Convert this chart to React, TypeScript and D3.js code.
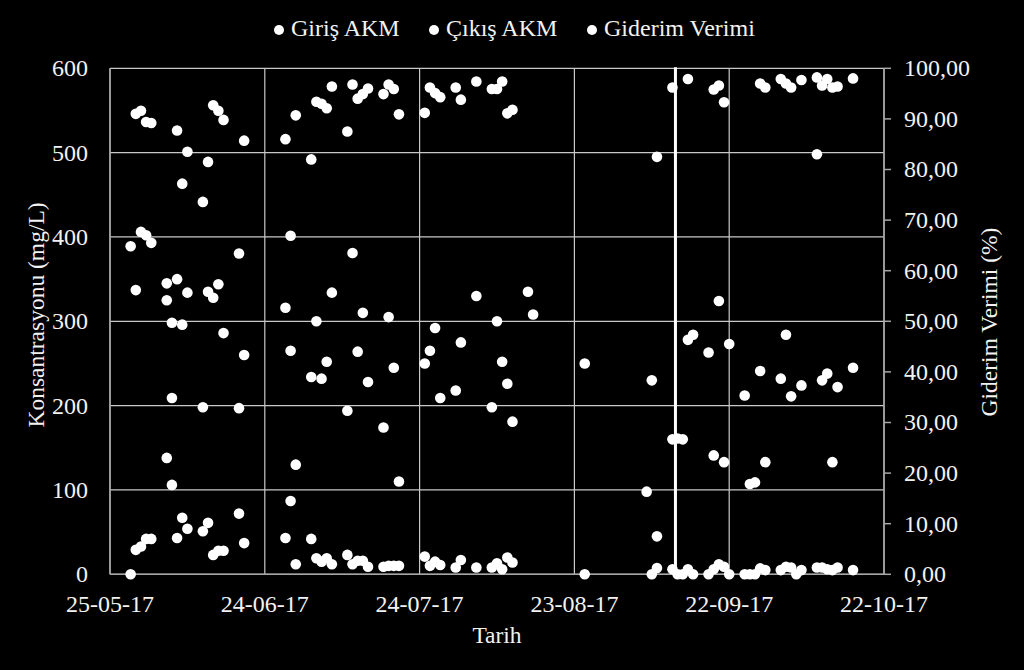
import React from "react";
import * as d3 from "d3";

// ---- Data ----
const dates = [
  "2017-05-29", "2017-05-30", "2017-05-31", "2017-06-01", "2017-06-02", "2017-06-05", "2017-06-06", "2017-06-07",
  "2017-06-08", "2017-06-09", "2017-06-12", "2017-06-13", "2017-06-14", "2017-06-15", "2017-06-16", "2017-06-19",
  "2017-06-20", "2017-06-28", "2017-06-29", "2017-06-30", "2017-07-03", "2017-07-04", "2017-07-05", "2017-07-06",
  "2017-07-07", "2017-07-10", "2017-07-11", "2017-07-12", "2017-07-13", "2017-07-14", "2017-07-17", "2017-07-18",
  "2017-07-19", "2017-07-20", "2017-07-25", "2017-07-26", "2017-07-27", "2017-07-28", "2017-07-31", "2017-08-01",
  "2017-08-04", "2017-08-07", "2017-08-08", "2017-08-09", "2017-08-10", "2017-08-11", "2017-08-14", "2017-08-15",
  "2017-08-25", "2017-09-06", "2017-09-07", "2017-09-08", "2017-09-11", "2017-09-12", "2017-09-13", "2017-09-14",
  "2017-09-15", "2017-09-18", "2017-09-19", "2017-09-20", "2017-09-21", "2017-09-22", "2017-09-25", "2017-09-26",
  "2017-09-27", "2017-09-28", "2017-09-29", "2017-10-02", "2017-10-03", "2017-10-04", "2017-10-05", "2017-10-06",
  "2017-10-09", "2017-10-10", "2017-10-11", "2017-10-12", "2017-10-13", "2017-10-16",
];

const girisAKM: (number | null)[] = [
  389, 337, 406, 402, 393, 325, 209, 350,
  296, 334, 198, 335, 328, 344, 286, 197,
  260, 316, 265, 130, 234, 300, 232, 252,
  334, 194, 381, 264, 310, 228, 174, 305,
  245, 110, 250, 265, 292, 209, 218, 275,
  330, 198, 300, 252, 226, 181, 335, 308,
  250, 98, 230, 45, 160, 161, 160, 278,
  284, 263, 141, 324, 133, 273, 212, 107,
  109, 241, 133, 232, 284, 211, null, 224,
  498, 230, 238, 133, 222, 245,
];

const cikisAKM: (number | null)[] = [
  null, 29, 33, 42, 42, 138, 106, 43,
  67, 54, 51, 61, 23, 28, 28, 72,
  37, 43, 87, 12, 42, 19, 15, 19,
  12, 23, 12, 16, 16, 9, 9, 10,
  10, 10, 21, 10, 15, 11, 8, 17,
  8, 8, 13, 6, 20, 14, null, null,
  null, null, null, 7.5, 6, null, null, 6,
  null, null, 6, 12, 9, null, null, null,
  null, 7, 5, 5, 9, 8, null, 5,
  8, 8, 6, 5, 8, 5,
];

const giderimVerimi: (number | null)[] = [
  0, 91.0, 91.6, 89.4, 89.2, 57.5, 49.7, 87.7,
  77.2, 83.5, 73.6, 81.5, 92.7, 91.6, 89.8, 63.4,
  85.7, 86.0, 66.9, 90.7, 82.0, 93.4, 93.0, 92.1,
  96.4, 87.5, 96.8, 94.0, 94.9, 96.0, 94.9, 96.8,
  95.9, 90.9, 91.2, 96.2, 95.1, 94.3, 96.2, 93.8,
  97.4, 95.9, 95.9, 97.4, 91.1, 91.8, null, null,
  0, null, 0, 82.5, 96.2, 0, 0, 97.9,
  0, 0, 95.8, 96.6, 93.3, 0, 0, 0,
  0, 97.0, 96.2, 97.9, 97.0, 96.2, 0, 97.7,
  98.2, 96.6, 97.9, 96.2, 96.4, 98.0,
];

const xTickDates = ["2017-05-25", "2017-06-24", "2017-07-24", "2017-08-23", "2017-09-22", "2017-10-22"];
const xTickLabels = ["25-05-17", "24-06-17", "24-07-17", "23-08-17", "22-09-17", "22-10-17"];
const leftTicks = [0, 100, 200, 300, 400, 500, 600];
const rightTicks = [0, 10, 20, 30, 40, 50, 60, 70, 80, 90, 100];
const markerDate = "2017-09-11T14:00:00Z";
const legendLabels = ["Giriş AKM", "Çıkış AKM", "Giderim Verimi"];

const W = 1024;
const H = 670;
const FONT = "'Liberation Serif', 'Times New Roman', serif";
const TEXT = "#f2f2f2";
const FS = 24;

const parse = (s: string) => new Date(s.length > 10 ? s : s + "T00:00:00Z");

export default function App() {
  const plot = { left: 110, right: 884, top: 68.3, bottom: 574.3 };

  const x = d3
    .scaleUtc()
    .domain([parse(xTickDates[0]), parse(xTickDates[xTickDates.length - 1])])
    .range([plot.left, plot.right]);
  const yL = d3.scaleLinear().domain([0, 600]).range([plot.bottom, plot.top]);
  const yR = d3.scaleLinear().domain([0, 100]).range([plot.bottom, plot.top]);

  const fmtR = (v: number) => d3.format(".2f")(v).replace(".", ",");

  const pts = (vals: (number | null)[], scale: d3.ScaleLinear<number, number>) =>
    vals
      .map((v, i) => (v == null ? null : { cx: x(parse(dates[i])), cy: scale(v) }))
      .filter((p): p is { cx: number; cy: number } => p !== null);

  const series = [pts(girisAKM, yL), pts(cikisAKM, yL), pts(giderimVerimi, yR)];

  const legendX = [279, 434, 592];

  return (
    <div style={{ position: "fixed", left: 0, top: 0, width: W, height: H, background: "#000" }}>
      <svg width={W} height={H} style={{ display: "block", background: "#000" }} fontFamily={FONT}>
        {/* horizontal gridlines */}
        {leftTicks.map((t) => (
          <line key={"hg" + t} x1={plot.left} x2={plot.right} y1={yL(t)} y2={yL(t)} stroke="#c8c8c8" strokeWidth={1.2} />
        ))}
        {/* vertical gridlines */}
        {xTickDates.map((d) => (
          <line key={"vg" + d} x1={x(parse(d))} x2={x(parse(d))} y1={plot.top} y2={plot.bottom} stroke="#c8c8c8" strokeWidth={1.2} />
        ))}
        {/* axes */}
        <line x1={plot.left} x2={plot.left} y1={plot.top} y2={plot.bottom} stroke="#a6a6a6" strokeWidth={1.5} />
        <line x1={plot.left} x2={plot.right} y1={plot.bottom} y2={plot.bottom} stroke="#a6a6a6" strokeWidth={1.5} />
        <line x1={plot.right} x2={plot.right} y1={plot.top} y2={plot.bottom} stroke="#a6a6a6" strokeWidth={1.5} />
        {rightTicks.map((t) => (
          <line key={"rt" + t} x1={plot.right} x2={plot.right + 7} y1={yR(t)} y2={yR(t)} stroke="#a6a6a6" strokeWidth={1.5} />
        ))}

        {/* marker line */}
        <line x1={x(parse(markerDate))} x2={x(parse(markerDate))} y1={plot.top - 1} y2={plot.bottom} stroke="#ffffff" strokeWidth={3} />

        {/* points */}
        {series.map((s, si) =>
          s.map((p, i) => <circle key={si + "-" + i} cx={p.cx} cy={p.cy} r={5.3} fill="#ffffff" />)
        )}

        {/* left tick labels */}
        {leftTicks.map((t) => (
          <text key={"lt" + t} x={plot.left - 22} y={yL(t)} dy="0.33em" textAnchor="end" fontSize={FS} fill={TEXT}>
            {t}
          </text>
        ))}
        {/* right tick labels */}
        {rightTicks.map((t) => (
          <text key={"rl" + t} x={plot.right + 20} y={yR(t)} dy="0.33em" textAnchor="start" fontSize={FS} fill={TEXT}>
            {fmtR(t)}
          </text>
        ))}
        {/* x tick labels */}
        {xTickDates.map((d, i) => (
          <text key={"xl" + d} x={x(parse(d))} y={612} textAnchor="middle" fontSize={FS} fill={TEXT}>
            {xTickLabels[i]}
          </text>
        ))}

        {/* axis titles */}
        <text x={(plot.left + plot.right) / 2} y={643} textAnchor="middle" fontSize={23.5} fill={TEXT}>
          Tarih
        </text>
        <text transform="translate(44,315) rotate(-90)" textAnchor="middle" fontSize={23.5} fill={TEXT}>
          Konsantrasyonu (mg/L)
        </text>
        <text transform="translate(997,322) rotate(-90)" textAnchor="middle" fontSize={23.5} fill={TEXT}>
          Giderim Verimi (%)
        </text>

        {/* legend */}
        {legendLabels.map((l, i) => (
          <g key={"lg" + i}>
            <circle cx={legendX[i]} cy={30} r={5} fill="#ffffff" />
            <text x={legendX[i] + 12} y={36} fontSize={FS} fill={TEXT}>
              {l}
            </text>
          </g>
        ))}
      </svg>
    </div>
  );
}
